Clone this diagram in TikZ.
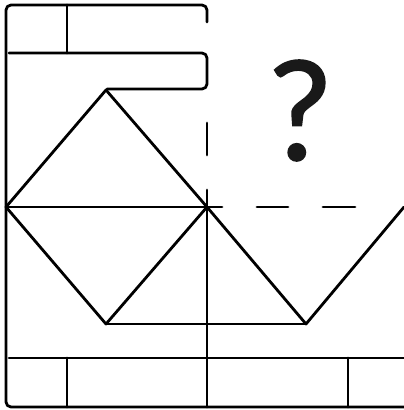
\documentclass[tikz,border=0pt]{standalone}
\usepackage{fontspec}
\setmainfont{Liberation Sans}
\newfontfamily\qfont{Lato}[FakeBold=1.2]
\begin{document}
\begin{tikzpicture}[x=1pt,y=-1pt,
  ln/.style={line width=2.8pt,line cap=round,line join=round,black}]
\useasboundingbox (0,0) rectangle (404,410);
% outer frame
\draw[ln,rounded corners=5pt] (207,22) -- (207,5) -- (6,5) -- (6,407) -- (404,407);
\draw[ln] (67,5) -- (67,53);
\draw[ln,rounded corners=5pt] (9,53) -- (207,53) -- (207,89) -- (107,89);
% upper triangle
\draw[ln] (6,207) -- (106,90) -- (207,207);
% middle horizontal
\draw[ln] (6,207) -- (207,207);
% lower diamond
\draw[ln] (6,207) -- (106,324) -- (207,207);
\draw[ln] (106,324) -- (306,324);
% V on right
\draw[ln] (207,207) -- (306,324) -- (404,207);
% dashed lines
\draw[ln] (207,123) -- (207,155);
\draw[ln] (207,190) -- (207,407);
\draw[ln] (207,207) -- (222,207);
\draw[ln] (257,207) -- (288,207);
\draw[ln] (323,207) -- (355,207);
% bottom
\draw[ln] (9,358) -- (404,358);
\draw[ln] (67,358) -- (67,407);
\draw[ln] (348,358) -- (348,407);
% question mark
\node[font=\qfont\fontsize{138}{138}\selectfont, inner sep=0pt, anchor=base, text=black!90] (q) at (300,160) {?};
\end{tikzpicture}
\end{document}
